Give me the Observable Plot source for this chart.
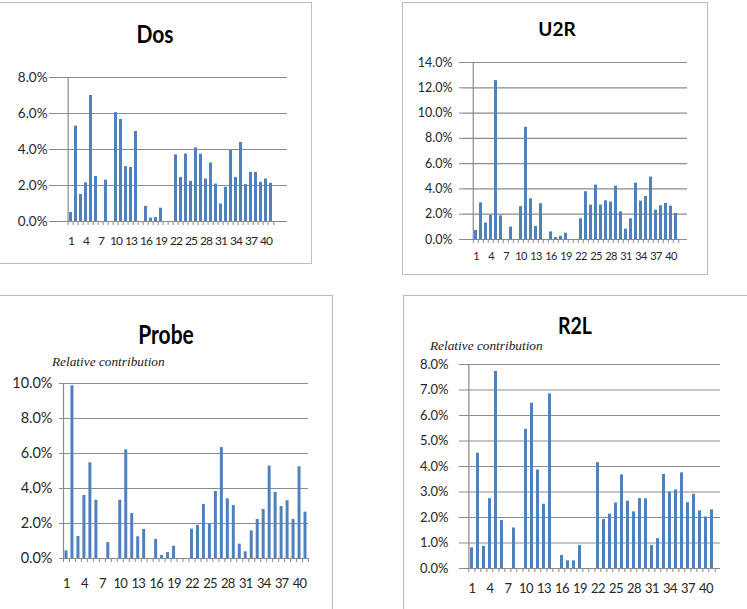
<!DOCTYPE html>
<html>
<head>
<meta charset="utf-8">
<script src="https://cdn.jsdelivr.net/npm/d3@7"></script>
<script src="https://cdn.jsdelivr.net/npm/@observablehq/plot@0.6"></script>
<style>
  body { margin: 0; width: 747px; height: 609px; background: #fff; position: relative; overflow: hidden; font-family: Lato, "DejaVu Sans", sans-serif; }
  .frame { position: absolute; border: 1.5px solid #bdbdbd; box-sizing: border-box; }
  .title { position: absolute; font-weight: 700; color: #000; white-space: nowrap; line-height: 1; }
  .sub { position: absolute; font-family: "Liberation Serif", "DejaVu Serif", serif; font-style: italic; font-size: 13.3px; color: #1a1a1a; white-space: nowrap; line-height: 1; }
  .chart { position: absolute; }
</style>
</head>
<body>
<script>
// Feature index (1..41) shared by every attack class
const categories = [1, 2, 3, 4, 5, 6, 7, 8, 9, 10, 11, 12, 13, 14, 15, 16, 17, 18, 19, 20,
  21, 22, 23, 24, 25, 26, 27, 28, 29, 30, 31, 32, 33, 34, 35, 36, 37, 38, 39, 40, 41];
const xTickLabels = [1, 4, 7, 10, 13, 16, 19, 22, 25, 28, 31, 34, 37, 40];

// Relative contribution of each feature, in percent
const dosValues = [0.5, 5.3, 1.5, 2.15, 7.0, 2.5, 0, 2.3, 0, 6.05, 5.67, 3.05, 3.0, 5.0, 0,
  0.84, 0.19, 0.22, 0.74, 0, 0, 3.7, 2.45, 3.75, 2.23, 4.09, 3.74, 2.36, 3.25, 2.08,
  0.97, 1.9, 3.94, 2.45, 4.39, 2.05, 2.73, 2.73, 2.18, 2.36, 2.12];
const u2rValues = [0.71, 2.9, 1.3, 1.9, 12.57, 1.87, 0, 0.98, 0, 2.6, 8.87, 3.22, 1.03, 2.83, 0,
  0.6, 0.16, 0.26, 0.5, 0, 0, 1.64, 3.78, 2.72, 4.3, 2.72, 3.06, 2.96, 4.22, 2.19,
  0.82, 1.64, 4.46, 3.04, 3.41, 4.94, 2.32, 2.67, 2.85, 2.64, 2.06];
const probeValues = [0.44, 9.87, 1.26, 3.6, 5.47, 3.33, 0, 0.91, 0, 3.33, 6.21, 2.57, 1.24, 1.66, 0,
  1.09, 0.17, 0.34, 0.7, 0, 0, 1.68, 1.89, 3.09, 1.96, 3.83, 6.34, 3.41, 3.03, 0.82,
  0.38, 1.58, 2.23, 2.8, 5.28, 3.77, 2.97, 3.3, 2.23, 5.24, 2.65];
const r2lValues = [0.81, 4.52, 0.87, 2.74, 7.73, 1.88, 0, 1.59, 0, 5.46, 6.48, 3.86, 2.52, 6.85, 0,
  0.51, 0.3, 0.3, 0.9, 0, 0, 4.15, 1.92, 2.13, 2.57, 3.67, 2.64, 2.22, 2.74, 2.73,
  0.9, 1.17, 3.69, 3.0, 3.08, 3.75, 2.58, 2.91, 2.26, 2.02, 2.3];

// Value-axis ticks (percent)
const dosTicks = [0, 2, 4, 6, 8];
const u2rTicks = [0, 2, 4, 6, 8, 10, 12, 14];
const probeTicks = [0, 2, 4, 6, 8, 10];
const r2lTicks = [0, 1, 2, 3, 4, 5, 6, 7, 8];

const titles = ["Dos", "U2R", "Probe", "R2L"];
const subtitle = "Relative contribution";

const BAR = "#4F81BD";
const GRID = "#8c8c8c";
const AXIS = "#8a8a8a";
const INK = "#262626";

// Page layout of each small chart
const panels = [
  { title: titles[0], values: dosValues, ticks: dosTicks,
    frame: { l: -2, t: 2, r: 312, b: 264 },
    titlePos: { cx: 155, cy: 33, size: 21, sy: 1.15 },
    plot: { l: 53, r: 287, t: 77, b: 221 },
    ySize: 13.5, yGap: 2, xSize: 12, xPad: 15, xSpacing: -0.9 },
  { title: titles[1], values: u2rValues, ticks: u2rTicks,
    frame: { l: 402, t: 2, r: 708, b: 275 },
    titlePos: { cx: 557, cy: 28, size: 19, sy: 1.0 },
    plot: { l: 463, r: 687, t: 62, b: 239 },
    ySize: 12.5, yGap: 7, xSize: 11, xPad: 13, xSpacing: -0.7 },
  { title: titles[2], values: probeValues, ticks: probeTicks,
    frame: { l: -2, t: 295, r: 333, b: 612 },
    titlePos: { cx: 166, cy: 333, size: 21, sy: 1.3 },
    sub: { l: 52, t: 355 },
    plot: { l: 63, r: 308, t: 383, b: 558 },
    ySize: 14.5, yGap: 7, xSize: 13, xPad: 20, xSpacing: -0.8 },
  { title: titles[3], values: r2lValues, ticks: r2lTicks,
    frame: { l: 403, t: 295, r: 750, b: 612 },
    titlePos: { cx: 575, cy: 325, size: 19.5, sy: 1.2 },
    sub: { l: 430, t: 339 },
    plot: { l: 463, r: 720, t: 364, b: 568 },
    ySize: 13, yGap: 11, xSize: 13, xPad: 15, xSpacing: -0.6 }
];

function drawPanel(p) {
  const frame = document.createElement("div");
  frame.className = "frame";
  Object.assign(frame.style, {
    left: p.frame.l + "px", top: p.frame.t + "px",
    width: (p.frame.r - p.frame.l) + "px", height: (p.frame.b - p.frame.t) + "px"
  });
  document.body.appendChild(frame);

  const t = document.createElement("div");
  t.className = "title";
  t.textContent = p.title;
  Object.assign(t.style, {
    left: p.titlePos.cx + "px", top: p.titlePos.cy + "px",
    fontSize: p.titlePos.size + "px",
    transform: `translate(-50%, -50%) scale(1, ${p.titlePos.sy})`
  });
  document.body.appendChild(t);

  if (p.sub) {
    const s = document.createElement("div");
    s.className = "sub";
    s.textContent = subtitle;
    Object.assign(s.style, { left: p.sub.l + "px", top: p.sub.t + "px" });
    document.body.appendChild(s);
  }

  const mL = 60, mR = 10, mT = 10, mB = 34;
  const plotW = p.plot.r - p.plot.l;
  const plotH = p.plot.b - p.plot.t;
  const step = plotW / categories.length;
  const yMax = p.ticks[p.ticks.length - 1];
  const data = categories.map((c, i) => ({ cat: c, value: p.values[i] }));

  const chart = Plot.plot({
    width: plotW + mL + mR,
    height: plotH + mT + mB,
    marginLeft: mL, marginRight: mR, marginTop: mT, marginBottom: mB,
    style: { fontFamily: "Lato, 'DejaVu Sans', sans-serif", color: INK, background: "transparent", overflow: "visible" },
    x: { type: "band", domain: categories, paddingInner: 0.5, paddingOuter: 0.25, align: 0.5, axis: null },
    y: { domain: [0, yMax], axis: null },
    marks: [
      Plot.gridY(p.ticks, { stroke: GRID, strokeOpacity: 1, strokeWidth: 1.2 }),
      // value axis line along the left edge of the plotting area
      Plot.ruleX([categories[0]], { x: (d) => d, y1: 0, y2: yMax, dx: -step / 2, stroke: AXIS, strokeWidth: 1.2 }),
      Plot.barY(data, { x: "cat", y: "value", fill: BAR }),
      Plot.ruleY([0], { stroke: AXIS, strokeWidth: 1.2 }),
      Plot.axisY({ ticks: p.ticks, tickSize: 4, tickPadding: p.yGap, stroke: AXIS,
        tickFormat: (d) => d.toFixed(1) + "%", label: null, fill: INK }),
      // category boundary tick marks
      Plot.axisX({ ticks: categories, tickSize: 4, dx: -step / 2, stroke: AXIS, fill: "none", label: null }),
      Plot.axisX({ ticks: [categories[categories.length - 1]], tickSize: 4, dx: step / 2, stroke: AXIS, fill: "none", label: null }),
      Plot.axisX({ ticks: xTickLabels, tickSize: 0, tickPadding: p.xPad, label: null, fill: INK })
    ]
  });
  const svg = d3.select(chart);
  svg.selectAll('[aria-label="y-axis tick label"]')
    .attr("font-size", p.ySize);
  svg.selectAll('[aria-label="y-axis tick label"] text').attr("font-size", null);
  svg.selectAll('[aria-label="x-axis tick label"]')
    .attr("font-size", p.xSize)
    .style("letter-spacing", p.xSpacing + "px");
  svg.selectAll('[aria-label="x-axis tick label"] text').attr("font-size", null);

  chart.classList.add("chart");
  chart.style.left = (p.plot.l - mL) + "px";
  chart.style.top = (p.plot.t - mT) + "px";
  document.body.appendChild(chart);
}

panels.forEach(drawPanel);
</script>
</body>
</html>
